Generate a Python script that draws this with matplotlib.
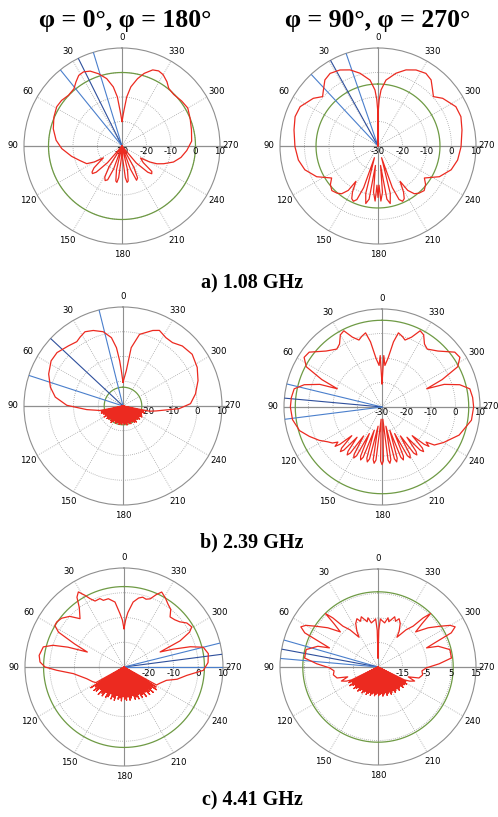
import numpy as np
import matplotlib
matplotlib.use('Agg')
import matplotlib.pyplot as plt
from matplotlib.transforms import offset_copy

W, H = 498, 817
fig = plt.figure(figsize=(W / 100, H / 100), dpi=100)

# ---------------- data ----------------
angle_ticks = [0, 30, 60, 90, 120, 150, 180, 210, 240, 270, 300, 330]
angle_labels = ['0', '30', '60', '90', '120', '150', '180', '210', '240', '270', '300', '330']
rlabels_a = ['-30', '-20', '-10', '0', '10']
rlabels_b = ['-25', '-15', '-5', '5', '15']

col_titles = ['φ = 0°, φ = 180°', 'φ = 90°, φ = 270°']
row_captions = ['a) 1.08 GHz', 'b) 2.39 GHz', 'c) 4.41 GHz']

# plot 1 : 1.08 GHz, phi = 0/180
p1_theta = [0, 2, 3.2, 5.4, 8.4, 12.8, 18, 23, 27.5, 31.5, 35.7, 40, 46.6, 53, 59, 67, 76, 85, 92.5,
            101.6, 109, 116.6, 120, 122.5, 125, 128, 131, 133, 135.5, 139, 143, 148, 151, 154, 157, 160,
            164, 167, 170, 172, 174, 177, 180, 183, 186, 188, 190, 193, 196, 200, 203, 206, 209, 215,
            220, 224.5, 227, 229.5, 232, 237, 240, 243, 247, 252.7, 259, 266, 274, 283, 292, 300, 307,
            315, 321, 325, 330, 334, 338, 343, 347, 351.5, 354.5, 356.8, 358, 360]
p1_db = [-20, -17.5, -15.4, -9.9, -5.6, -1.8, 1.0, 3.2, 4.1, 3.8, 2.2, 0.5, 0.1, 0.9, 1.1, 0.2, -1.1, -3.0,
         -5.4, -9.0, -11.8, -13.9, -17, -21, -19, -15.5, -13.8, -13.5, -15, -21, -30, -20, -15.5, -14.3,
         -15, -20, -30, -20, -15.5, -15, -17, -25, -30, -25, -17, -15, -15.5, -20, -30, -20, -14.8, -15.5,
         -20, -30, -21, -15, -13.4, -14, -19, -21, -17, -14, -11.5, -8, -5.5, -3.5, -1.5, -0.9, 0, 1.0,
         0.5, -0.2, 0.3, 2.0, 3.6, 4.1, 3.5, 1.0, -1.8, -5.6, -9.9, -15.4, -17.5, -20]
p1_green = 0
p1_blue = [17, 26.5, 39]

# plot 2 : 1.08 GHz, phi = 90/270
p2_theta = [0, 0.5, 1.5, 3.1, 6.9, 13.9, 20.2, 26.6, 33.4, 38.8, 44.3, 48.3, 53.6, 63.2, 70.5, 79.2, 90.5,
            100, 108, 116.6, 124.6, 129, 134, 139, 142.7, 146.2, 148, 151, 153.5, 156, 158.5, 161, 163,
            165.5, 168, 170.5, 172.5, 174.5, 177, 178.5, 180, 181.5, 183, 185.5, 187.5, 189.5, 192, 194.5,
            197, 199, 201.5, 204, 206.5, 209, 212, 213.8, 217.3, 221, 226, 231, 235.4, 243.4, 252, 260,
            269.5, 280.8, 289.5, 296.8, 306.4, 311.7, 315.7, 321.2, 326.6, 333.4, 339.8, 346.1, 353.1,
            356.9, 358.5, 359.5, 360]
p2_db = [-30, -15.3, -11, -7.1, -2.9, 0.6, 3.1, 4.7, 5.5, 4.6, 1.9, 0.3, 2.8, 5.6, 5.9, 4.9, 3.9, 3.0, 1.4,
         -2.0, -7.0, -5, -3.8, -4.5, -5.5, -8.2, -13, -8.5, -6, -5.3, -6.5, -12, -25, -10, -6, -8, -22, -11,
         -7.5, -14, -9, -14, -7.5, -11, -22, -8, -6, -10, -25, -12, -6.5, -5.3, -6, -8.5, -13, -8.2, -5.5,
         -4.5, -3.8, -5, -7.0, -2.0, 1.4, 3.0, 3.9, 4.9, 5.9, 5.6, 2.8, 0.3, 1.9, 4.6, 5.5, 4.7, 3.1, 0.6,
         -2.9, -7.1, -11, -15.3, -30]
p2_green = -4.7
p2_blue = [19, 29, 43]

# plot 3 : 2.39 GHz, phi = 0/180
p3_theta = [0, 2.7, 4.2, 6.4, 9.6, 14.9, 21.5, 27.1, 31.9, 35.7, 42.2, 51, 57.9, 66.7, 75.5, 82.5, 89.3,
            95.7, 101, 259, 261.5, 267.3, 272, 279.5, 288.7, 297.5, 306.8, 315.3, 322, 327.9, 334.3, 338.5,
            347, 352, 354.7, 360]
p3_db = [-20.4, -15.7, -11.7, -6.3, -2.0, 1.05, 2.8, 3.7, 2.8, 2.0, 2.8, 4.3, 4.3, 2.7, 0.3, -2.4, -7.3,
         -15.3, -20.5, -19, -16.5, -7.3, -2.7, -0.3, 2.0, 3.8, 4.9, 4.1, 2.5, 2.6, 3.9, 2.8, -0.3, -6.2,
         -15.7, -20.4]
p3_back_range = (104, 256)
p3_back_peaks = [-21, -20.8, -21.5, -22, -21.2, -22.5, -21.8, -22.2, -23, -22.4, -21.8, -22.6, -23.2,
                 -22.5, -22.8, -23.2, -22.4, -23, -22.6, -23.4, -22.6, -23, -22.2, -23.1, -22.6, -22.2,
                 -23, -22.5, -22, -21.6, -22.6, -22, -21.5, -22.2, -21.2, -21.6, -22, -21, -21.4]
p3_back_floor = -30
p3_green = -22.4
p3_blue = [14, 47, 72]

# plot 4 : 2.39 GHz, phi = 90/270
p4_theta = [0, 2, 4, 7, 10, 12.5, 16, 19, 23, 26.6, 30, 34, 38, 45, 53, 57.5, 62, 65.5, 67.8, 70, 74,
            78.3, 84, 90, 98, 106, 112, 118, 122.5, 126,
            128.5, 130, 131.5, 133.5, 135.5, 137, 138.5, 140.5, 142.5, 144, 145.5, 147.5, 149.5, 151,
            152.5, 154.5, 156.5, 158, 159.5, 161.5, 163.5, 165, 166.5, 168.5, 170.5, 172, 173.5, 176,
            178.5, 180, 181.5, 184, 186.5, 188, 189.5, 191.5, 193.5, 195, 196.5, 198.5, 200.5, 202,
            203.5, 205.5, 207.5, 209, 210.5, 212.5, 214.5, 216, 217.5, 219.5, 221.5, 223, 224.5, 226.5,
            228.5, 230, 231.5,
            234, 240, 250, 261.6, 270, 276, 281.7, 286, 290, 292.2, 294.5, 298, 302.5, 307, 315, 322,
            326, 330, 333.4, 337, 341, 344, 347.5, 350, 353, 356, 358, 360]
p4_db = [-20.5, -9, -13, -10, -3, 1.0, 0, -1.1, 1, 4.8, 4.0, 1, 0, 2.3, 7.2, 7.7, 5, -3, -10.3, -3, 3,
         6.6, 7.2, 7.4, 6.9, 5, 2, -1, -3.6, -5,
         -7, -5, -7, -13, -6.5, -5.1, -6.5, -14, -7.2, -5.8, -7.2, -16, -7.6, -6.2, -7.6, -18, -8.1,
         -6.7, -8.1, -20, -8.2, -6.8, -8.2, -22, -8.2, -6.8, -8.2, -25, -8, -6.5, -8, -25, -8.2, -6.8,
         -8.2, -22, -8.2, -6.8, -8.2, -20, -8.1, -6.7, -8.1, -18, -7.6, -6.2, -7.6, -16, -7.2, -5.8,
         -7.2, -14, -6.5, -5.1, -6.5, -13, -7, -5, -7,
         -3.6, -1, 3.5, 6.9, 7.4, 7.2, 6.6, 3, -3, -10.3, -3, 5, 7.7, 7.2, 2.3, 0, 1, 4.0, 4.8,
         1, -1.1, 0, 1.0, -3, -10, -13, -9, -20.5]
p4_green = 5.4
p4_blue = [76.4, 84.8, 97.2]

# plot 5 : 4.41 GHz, phi = 0/180
p5_theta = [0, 2, 4.3, 7.9, 12.9, 17.2, 19.4, 23.7, 26.5, 28.6, 31.3, 34, 37, 42.3, 47, 52, 56.2, 59, 62,
            65, 67.8, 70.5, 73, 76, 82.2, 86.6, 90, 92.8, 97.5, 107.4, 115, 119, 241, 246, 252.6, 257,
            262.4, 267.6, 273, 279, 284, 287, 290, 292.6, 295, 298, 300.6, 305, 309, 313, 317.4, 321,
            325, 329, 333.3, 336, 339, 342, 345, 348, 352, 356, 358, 360]
p5_db = [-14.5, -11, -8.4, -3.5, -1.7, -1.8, -0.7, -0.9, 0.9, 3.0, 5.5, 4, 0, -3.6, 0, 2, 2.7, 2.6, 0,
         -8, -14, -6, 0, 3.6, 4.6, 4.0, 1.9, -2.8, -9.4, -14.2, -16, -17, -15, -14, -12, -8, -4.4, 2.1,
         4, 4.5, 3, -2, -9, -14.2, -5, 0, 1.8, 1, -1, -2, -2.5, 0, 1, 2.5, 3.9, 2, -0.5, -1.2, -0.8,
         -1.5, -3.5, -8, -11, -14.5]
p5_back_range = (122, 238)
p5_back_peaks = [-14.2, -16.0, -14.6, -15.2, -17.0, -14.8, -16.2, -15.4, -17.5, -15.6, -16.4, -18.0,
                 -16.1, -17.2, -16.0, -18.2, -16.8, -17.4, -16.3, -18.0, -17.0, -16.5, -17.8, -16.4,
                 -17.2, -18.0, -16.2, -17.0, -15.8, -17.6, -15.6, -16.6, -15.0, -16.8, -14.8, -15.8,
                 -14.4, -16.0, -14.0, -14.8]
p5_back_floor = -30
p5_green = 2.5
p5_blue = [270, 277.4, 284]

# plot 6 : 4.41 GHz, phi = 90/270
p6_theta = [0, 1.2, 2.8, 5, 8.6, 11.5, 13.5, 15.7, 18.4, 21, 23.6, 27, 30.5, 32.5, 37, 40.7, 42.6, 44.5,
            45.5, 47, 52, 56.6, 60, 62.5, 65, 67, 68.5, 71, 76.4, 83, 87, 91, 95, 100, 105, 108, 111, 114,
            116, 244, 246, 249, 252, 255, 260, 265, 269, 273, 277, 283.6, 289, 291.5, 293, 295, 297.5,
            300, 303.4, 308, 313, 314.5, 315.5, 317.4, 319.3, 323, 327.5, 329.5, 333, 336.4, 339, 341.6,
            344.3, 346.5, 348.5, 351.4, 355, 357.2, 358.8, 360]
p6_db = [-21.3, -10, -5.35, -6, -6.8, -4.5, -6, -4.9, -3.4, -5, -3.5, -5, -8, -10.6, -6, -3, 2.2, 5.6, 0,
         -4, 1, 5.2, 9, 10.5, 8, 0, -3.7, 1, 5.2, 5.2, 0, -5.2, -7, -6.5, -7.7, -12, -9, -10.8, -13, -13,
         -10.8, -9, -12, -7.7, -6.5, -7, -5.2, 0, 5.2, 5.2, 1, -3.7, 0, 8, 10.5, 9, 5.2, 1, -4, 0, 5.6,
         2.2, -3, -6, -10.6, -8, -5, -3.5, -5, -3.4, -4.9, -6, -4.5, -6.8, -6, -5.35, -10, -21.3]
p6_back_range = (118, 242)
p6_back_peaks = [-11.6, -12.8, -11.2, -12.4, -13.2, -11.8, -12.6, -13.5, -12.2, -13.0, -13.8, -12.6,
                 -13.4, -14.0, -12.8, -13.6, -14.2, -13.0, -13.8, -14.3, -13.2, -13.9, -14.4, -13.3,
                 -13.8, -14.1, -13.0, -13.7, -14.2, -12.9, -13.5, -13.9, -12.6, -13.3, -13.7, -12.4,
                 -13.0, -13.4, -12.1, -12.8, -13.1, -11.8, -12.5, -12.0, -11.4, -12.2]
p6_back_floor = -25
p6_green = 5.7
p6_blue = [74, 79.5, 85]

# ---------------- styling ----------------
RED = '#ec2a20'
GREEN = '#6e9a44'
BLUE = '#4a7fcc'
BLUE_D = '#2e4f9c'
GRID = '#a3a3a3'
AXLINE = '#8f8f8f'


def combine(theta, db, back_range=None, peaks=None, floor=None):
    th = list(theta)
    d = list(db)
    if peaks is not None:
        pk_th = np.linspace(back_range[0], back_range[1], len(peaks))
        step = pk_th[1] - pk_th[0]
        for t, v in zip(pk_th, peaks):
            th += [t - step / 2, t]
            d += [floor, v]
        th.append(pk_th[-1] + step / 2)
        d.append(floor)
    order = np.argsort(th, kind='stable')
    return np.array(th)[order], np.array(d)[order]


def draw(cx, cy, R, curve, rmin, rmax, green, blues, rlabels):
    ax = fig.add_axes([(cx - R) / W, 1 - (cy + R) / H, 2 * R / W, 2 * R / H], projection='polar')
    ax.set_theta_zero_location('N')
    ax.set_theta_direction(1)
    ax.set_ylim(rmin, rmax)
    ax.grid(False)
    ax.set_xticks([])
    ax.set_yticks([])
    ax.patch.set_alpha(0)
    ax.spines['polar'].set_color(AXLINE)
    ax.spines['polar'].set_linewidth(0.8)
    t = np.linspace(0, 2 * np.pi, 721)
    for k in (1, 2, 3):
        ax.plot(t, np.full_like(t, rmin + 10 * k), color=GRID, lw=0.6, ls=(0, (1, 1.5)), zorder=1)
    for a in angle_ticks:
        if a % 90 == 0:
            continue
        ax.plot([np.deg2rad(a)] * 2, [rmin, rmax], color=GRID, lw=0.6, ls=(0, (1, 1.5)), zorder=1)
    ax.plot([0, 0], [rmin, rmax], color=AXLINE, lw=0.8, zorder=1)
    ax.plot([np.pi, np.pi], [rmin, rmax], color=AXLINE, lw=0.8, zorder=1)
    ax.plot([np.pi / 2, np.pi / 2], [rmin, rmax], color=AXLINE, lw=0.9, zorder=1)
    ax.plot([3 * np.pi / 2] * 2, [rmin, rmax + 2.5], color=AXLINE, lw=0.9, zorder=1, clip_on=False)
    ax.plot(t, np.full_like(t, green), color=GREEN, lw=0.9, zorder=2)
    for i, b in enumerate(blues):
        ax.plot([np.deg2rad(b)] * 2, [rmin, rmax], color=BLUE_D if i == 1 else BLUE, lw=0.8, zorder=3)
    th, d = curve
    ax.plot(np.deg2rad(th), np.clip(d, rmin, rmax), color=RED, lw=0.9, zorder=6)
    off = offset_copy(ax.transData, fig=fig, x=0, y=-1.5, units='dots')
    for i, lab in enumerate(rlabels):
        ax.text(3 * np.pi / 2, rmin + 10 * i, lab, ha='center', va='top', fontsize=6.2,
                transform=off, zorder=5, clip_on=False)
    rl = rmax + 4.4 * (rmax - rmin) / 40
    for a, lab in zip(angle_ticks, angle_labels):
        ax.text(np.deg2rad(a), rl, lab, ha='center', va='center', fontsize=6.2, clip_on=False)
    return ax


draw(122, 146, 98, combine(p1_theta, p1_db), -30, 10, p1_green, p1_blue, rlabels_a)
draw(378, 146, 98, combine(p2_theta, p2_db), -30, 10, p2_green, p2_blue, rlabels_a)
draw(123, 406, 99, combine(p3_theta, p3_db, p3_back_range, p3_back_peaks, p3_back_floor),
     -30, 10, p3_green, p3_blue, rlabels_a)
draw(382, 407, 98, combine(p4_theta, p4_db), -30, 10, p4_green, p4_blue, rlabels_a)
draw(124, 667, 99, combine(p5_theta, p5_db, p5_back_range, p5_back_peaks, p5_back_floor),
     -30, 10, p5_green, p5_blue, rlabels_a)
draw(378, 667, 98, combine(p6_theta, p6_db, p6_back_range, p6_back_peaks, p6_back_floor),
     -25, 15, p6_green, p6_blue, rlabels_b)

serif = ['Liberation Serif', 'DejaVu Serif']
fig.text(125 / W, 1 - 20 / H, col_titles[0], ha='center', va='center', fontsize=18.5,
         fontweight='bold', family=serif)
fig.text(378 / W, 1 - 20 / H, col_titles[1], ha='center', va='center', fontsize=18.5,
         fontweight='bold', family=serif)
for y, cap in zip([283, 542, 800], row_captions):
    fig.text(252 / W, 1 - y / H, cap, ha='center', va='center', fontsize=14.5,
             fontweight='bold', family=serif)

fig.savefig('out.png', dpi=100, facecolor='white')
